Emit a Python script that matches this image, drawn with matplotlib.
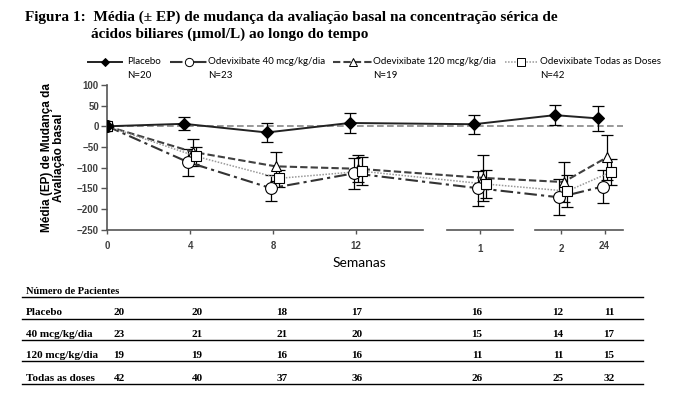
import numpy as np
import matplotlib
matplotlib.use('Agg')
import matplotlib.pyplot as plt
from matplotlib.lines import Line2D

# posições no eixo (eixo quebrado) e rótulos
week_pos = [0, 4, 8, 12, 18, 21.9, 24]
week_labels = ['0', '4', '8', '12', '1', '2', '24']

placebo = [0, 6, -15, 8, 5, 27, 19]
placebo_se = [0, 16, 22, 25, 23, 24, 30]
dose40 = [0, -87, -150, -114, -150, -172, -146]
dose40_se = [0, 33, 32, 37, 42, 44, 40]
dose120 = [0, -62, -97, -103, -125, -135, -75]
dose120_se = [0, 30, 35, 33, 56, 48, 55]
alldoses = [0, -73, -126, -109, -140, -157, -111]
alldoses_se = [0, 22, 20, 34, 33, 38, 32]

legend_labels = ['Placebo', 'Odevixibate 40 mcg/kg/dia',
                 'Odevixibate 120 mcg/kg/dia', 'Odevixibate Todas as Doses']
legend_n = ['N=20', 'N=23', 'N=19', 'N=42']

table_rows = ['Placebo', '40 mcg/kg/dia', '120 mcg/kg/dia', 'Todas as doses']
table_vals = [[20, 20, 18, 17, 16, 12, 11],
              [23, 21, 21, 20, 15, 14, 17],
              [19, 19, 16, 16, 11, 11, 15],
              [42, 40, 37, 36, 26, 25, 32]]

W, H = 681, 399
fig = plt.figure(figsize=(W / 100, H / 100), dpi=100)
ax = fig.add_axes([107.3 / W, 1 - 229.5 / H, (625.3 - 107.3) / W, (229.5 - 85) / H])

x = np.array(week_pos, dtype=float)
nz = (x > 0).astype(float)

# series: (values, se, offset, linestyle, color, lw, marker, ms, face)
series = [
    (dose120, dose120_se, 0.12, (0, (3.5, 1.5)), '#404040', 1.5, '^', 7.5, 'white'),
    (dose40, dose40_se, -0.1, (0, (6, 2, 1.5, 2)), '#333333', 1.5, 'o', 8.5, 'white'),
    (alldoses, alldoses_se, 0.3, (0, (1, 1)), '#999999', 1.1, 's', 7.5, 'white'),
    (placebo, placebo_se, -0.3, '-', '#222222', 1.4, 'D', 6, 'black'),
]

ax.plot([0, 24.9], [0, 0], color='#888888', linestyle=(0, (4, 2)), linewidth=1.2,
        zorder=1, clip_on=False)

for vals, se, off, ls, col, lw, mk, ms, fc in series:
    xs = x + off * nz
    ax.errorbar(xs, vals, yerr=se, fmt='none', ecolor='black', elinewidth=0.9,
                capsize=4, capthick=0.9, zorder=2)
    ax.plot(xs, vals, linestyle=ls, color=col, linewidth=lw, zorder=3)
    ax.plot(xs, vals, linestyle='none', marker=mk, markersize=ms,
            markerfacecolor=fc, markeredgecolor='black', markeredgewidth=0.8, zorder=4)

ax.set_xlim(0, 25)
ax.set_ylim(-250, 100)
ax.set_yticks(np.arange(-250, 101, 50))
ax.set_xticks(week_pos)
ax.set_xticklabels(week_labels)
for s in ['top', 'right', 'bottom']:
    ax.spines[s].set_visible(False)
ax.spines['left'].set_color('#555555')
ax.spines['left'].set_linewidth(1.2)
ax.tick_params(axis='y', direction='out', length=4, width=1, color='#555555',
               labelsize=7, labelcolor='#404040', pad=2)
ax.tick_params(axis='x', direction='out', length=3, width=1, color='#555555',
               labelsize=7, labelcolor='#404040', pad=5)
for t in ax.get_xticklabels() + ax.get_yticklabels():
    t.set_fontweight('bold')
    t.set_family('Liberation Sans')
# os rótulos "1" e "2" ficam um pouco mais baixos
for t in ax.get_xticklabels()[4:6]:
    t.set_y(-0.025)

# eixo x quebrado
for a, b in [(0, 15.25), (16.4, 19.6), (20.65, 24.9)]:
    ax.plot([a, b], [-250, -250], color='#555555', linewidth=1.2, clip_on=False, zorder=5)

fig.text(359 / W, 1 - 263 / H, 'Semanas', ha='center', va='center',
         family='Lato', fontsize=10)
fig.text(53 / W, 1 - 158 / H, 'Média (EP) de Mudança da\nAvaliação basal', rotation=90,
         ha='center', va='center', multialignment='center', family='Liberation Sans',
         fontweight='bold', fontsize=8.5, linespacing=1.05)

# título
fig.text(25 / W, 1 - 17 / H, 'Figura 1:  Média (± EP) de mudança da avaliação basal na concentração sérica de',
         ha='left', va='center', family='Liberation Serif', fontweight='bold', fontsize=11)
fig.text(91 / W, 1 - 34 / H, 'ácidos biliares (µmol/L) ao longo do tempo',
         ha='left', va='center', family='Liberation Serif', fontweight='bold', fontsize=11)

# legenda manual
leg_handles = [(88, 122, 127), (170, 207, 208), (333, 372, 373), (505, 537, 540)]
leg_style = [series[3], series[1], series[0], series[2]]
ly = 1 - 62 / H
for (h0, h1, tx), lab, n, st in zip(leg_handles, legend_labels, legend_n, leg_style):
    _, _, _, ls, col, lw, mk, ms, fc = st
    fig.add_artist(Line2D([h0 / W, h1 / W], [ly, ly], linestyle=ls, color=col, linewidth=lw))
    fig.add_artist(Line2D([(h0 + h1) / 2 / W], [ly], marker=mk, markersize=ms * 0.7,
                          markerfacecolor=fc, markeredgecolor='black', markeredgewidth=0.7))
    fig.text(tx / W, ly, lab, ha='left', va='center', family='Lato', fontsize=7)
    fig.text(tx / W, 1 - 75 / H, n, ha='left', va='center', family='Lato', fontsize=7)

# tabela de número de pacientes
col_x = [119, 197, 282, 357, 477, 558, 609]
row_y = [312.3, 334.3, 356, 378.3]
line_y = [297.3, 319, 340, 360.7, 384]
fig.text(26 / W, 1 - 291.5 / H, 'Número de Pacientes', ha='left', va='center',
         family='Liberation Serif', fontweight='bold', fontsize=7.5)
for yy in line_y:
    fig.add_artist(Line2D([21.7 / W, 643 / W], [1 - yy / H, 1 - yy / H], color='black', linewidth=1))
for name, vals, yy in zip(table_rows, table_vals, row_y):
    fig.text(26 / W, 1 - yy / H, name, ha='left', va='center',
             family='Liberation Serif', fontweight='bold', fontsize=8)
    for cx, v in zip(col_x, vals):
        fig.text(cx / W, 1 - yy / H, str(v), ha='center', va='center',
                 family='Liberation Serif', fontweight='bold', fontsize=8)

fig.savefig('out.png', dpi=100)
